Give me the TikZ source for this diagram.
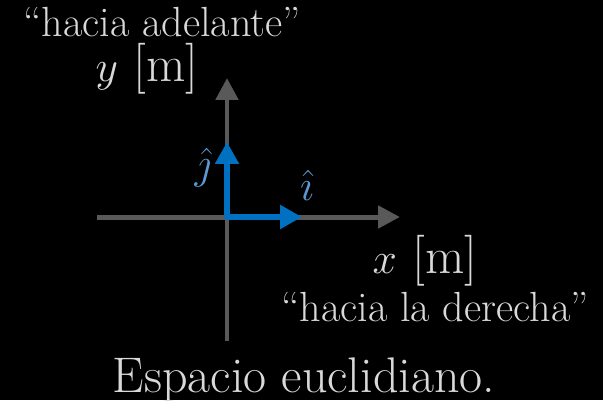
\documentclass[tikz,border=0pt]{standalone}
\usetikzlibrary{arrows.meta}

\definecolor{axisgray}{HTML}{595959}
\definecolor{vecblue}{HTML}{0070C0}
\definecolor{lblblue}{HTML}{5B9BD5}
\definecolor{txtgray}{HTML}{D9D9D9}

\tikzset{
  axisline/.style={line width=0.1cm,axisgray,-{Triangle[length=0.44cm,width=0.44cm]}},
  unitvec/.style={line width=0.11cm,vecblue,-{Triangle[length=0.44cm,width=0.46cm]}},
  caption/.style={txtgray,inner sep=0pt,anchor=base,font=\fontsize{24}{28}\selectfont},
  axislabel/.style={txtgray,inner sep=0pt,anchor=base,font=\fontsize{29}{33}\selectfont},
  veclabel/.style={lblblue,inner sep=0pt,font=\fontsize{26}{30}\selectfont}
}

\begin{document}
\begin{tikzpicture}[x=0.02cm,y=0.02cm]

% background
\fill[black] (0,0) rectangle (603,400);
\useasboundingbox (0,0) rectangle (603,400);

% axis end points
\coordinate (O) at (227,183);
\coordinate (xL) at (97,183);
\coordinate (xR) at (400,183);
\coordinate (yB) at (227,59);
\coordinate (yT) at (227,322);

% axes
\draw[axisline] (xL) -- (xR);
\draw[axisline] (yB) -- (yT);

% unit vectors
\coordinate (iT) at (302,183);
\coordinate (jT) at (227,258);
\draw[unitvec] (O) -- (iT);
\draw[unitvec] (O) -- (jT);
\fill[vecblue] (O) circle (0.055cm);

\node[veclabel] (jlab) at (203,232) {$\hat{\jmath}$};
\node[veclabel] (ilab) at (307,215) {$\hat{\imath}$};

% axis labels
\node[axislabel] (ylab) at (147,319) {$y$ [m]};
\node[axislabel] (xlab) at (425,127) {$x$ [m]};

% captions
\node[caption] (fwd) at (162,364) {``hacia adelante''};
\node[caption] (right) at (435,79) {``hacia la derecha''};
\node[caption,font=\fontsize{28.5}{32}\selectfont] (title) at (304,8) {Espacio euclidiano.};

\end{tikzpicture}
\end{document}
